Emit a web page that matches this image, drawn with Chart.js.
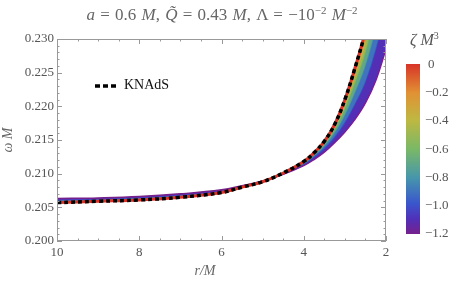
<!DOCTYPE html>
<html>
<head>
<meta charset="utf-8">
<script src="https://cdn.jsdelivr.net/npm/chart.js@4"></script>
<style>
  body { margin: 0; background: #fff; }
  #wrap { position: relative; width: 458px; height: 285px; font-family: "Liberation Serif", "Times New Roman", serif; }
  #title { position: absolute; left: 0; width: 444px; top: 5px; text-align: center; font-size: 17px; word-spacing: 1px; color: #666; white-space: nowrap; }
  #title sup { font-size: 11px; vertical-align: 6px; line-height: 0; }
  #legend { position: absolute; left: 95px; top: 77px; font-size: 14px; color: #111; white-space: nowrap; }
  #legend svg { vertical-align: middle; margin-right: 8px; }
  #xtitle { position: absolute; left: 185px; width: 40px; top: 263px; text-align: center; font-size: 14px; color: #666; font-style: italic; }
  #cbar { position: absolute; left: 406px; top: 64px; width: 14px; height: 170px; }
  .cl { position: absolute; left: 428px; font-size: 13px; color: #555; line-height: 14px; }
  #ctitle { position: absolute; left: 410px; top: 31px; font-size: 16px; color: #555; font-style: italic; }
  #ctitle sup { font-size: 10px; vertical-align: 6px; line-height: 0; font-style: normal; }
</style>
</head>
<body>
<div id="wrap">
  <canvas id="c" width="458" height="285"></canvas>
  <div id="title"><i>a</i> = 0.6 <i>M</i>, <i>Q&#771;</i> = 0.43 <i>M</i>, Λ = −10<sup>−2</sup> <i>M</i><sup>−2</sup></div>
  <div id="legend"><svg width="21" height="4"><line x1="0" y1="2" x2="21" y2="2" stroke="#000" stroke-width="3.5" stroke-dasharray="5,3"/></svg>KNAdS</div>
  <div id="xtitle">r/M</div>
  <div id="ctitle">ζ M<sup>3</sup></div>
  <div id="cbar"></div>
</div>
<script>
// radius grid r/M
const rValues = [10, 9, 8, 7, 6, 5.5, 5, 4.5, 4, 3.75, 3.5, 3.25, 3, 2.75, 2.5, 2.25, 2];

// omega*M for each zeta*M^3
const zetaLevels = [0, -0.2, -0.4, -0.6, -0.8, -1.0, -1.2];
const omegaZeta0   = [0.2057, 0.2059, 0.2061, 0.2065, 0.2072, 0.2080, 0.2088, 0.2101, 0.2118, 0.2131, 0.2148, 0.2173, 0.2210, 0.2258, 0.2312, 0.2385, 0.2472];
const omegaZeta02  = [0.20574, 0.20593, 0.20613, 0.20653, 0.20722, 0.20801, 0.20881, 0.21009, 0.21176, 0.21304, 0.21470, 0.21713, 0.22070, 0.22533, 0.23054, 0.23762, 0.24609];
const omegaZeta04  = [0.20580, 0.20599, 0.20619, 0.20659, 0.20727, 0.20803, 0.20882, 0.21007, 0.21168, 0.21293, 0.21453, 0.21682, 0.22015, 0.22446, 0.22933, 0.23600, 0.24406];
const omegaZeta06  = [0.20588, 0.20605, 0.20625, 0.20665, 0.20732, 0.20806, 0.20883, 0.21004, 0.21159, 0.21280, 0.21432, 0.21646, 0.21950, 0.22343, 0.22790, 0.23409, 0.24165];
const omegaZeta08  = [0.20599, 0.20614, 0.20634, 0.20674, 0.20739, 0.20810, 0.20885, 0.21000, 0.21146, 0.21262, 0.21403, 0.21596, 0.21860, 0.22201, 0.22592, 0.23144, 0.23832];
const omegaZeta10  = [0.20612, 0.20625, 0.20645, 0.20685, 0.20748, 0.20814, 0.20887, 0.20996, 0.21131, 0.21240, 0.21368, 0.21534, 0.21750, 0.22027, 0.22350, 0.22821, 0.23425];
const omegaZeta12  = [0.2063, 0.2064, 0.2066, 0.2070, 0.2076, 0.2082, 0.2089, 0.2099, 0.2112, 0.2121, 0.2132, 0.2146, 0.2162, 0.2181, 0.2205, 0.2238, 0.2285];
const omegaKNAdS   = omegaZeta0;

const xTicks = [10, 8, 6, 4, 2];
const yTicks = [0.200, 0.205, 0.210, 0.215, 0.220, 0.225, 0.230];
const cbarLabels = ['0', '−0.2', '−0.4', '−0.6', '−0.8', '−1.0', '−1.2'];

// rainbow colormap, t=0 purple -> t=1 red
const cmap = [
  [0.00, [118, 32, 140]],
  [0.09, [80, 48, 185]],
  [0.18, [58, 86, 205]],
  [0.33, [70, 150, 172]],
  [0.50, [122, 184, 102]],
  [0.67, [190, 184, 66]],
  [0.83, [225, 145, 52]],
  [1.00, [216, 52, 40]]
];
function colorAt(t) {
  for (let i = 1; i < cmap.length; i++) {
    if (t <= cmap[i][0]) {
      const [t0, c0] = cmap[i - 1], [t1, c1] = cmap[i];
      const k = (t - t0) / (t1 - t0);
      const c = c0.map((v, j) => Math.round(v + (c1[j] - v) * k));
      return `rgb(${c[0]},${c[1]},${c[2]})`;
    }
  }
  return 'rgb(216,52,40)';
}
const zt = z => 1 + z / 1.2;

document.getElementById('cbar').style.background =
  'linear-gradient(to top,' + cmap.map(s => `${colorAt(s[0])} ${s[0] * 100}%`).join(',') + ')';
cbarLabels.forEach((lab, i) => {
  const d = document.createElement('div');
  d.className = 'cl';
  d.textContent = lab;
  d.style.left = (lab === '0' ? 428 : 425) + 'px';
  d.style.top = (64 + i * 28.2 - 7) + 'px';
  document.getElementById('wrap').appendChild(d);
});

const series = [omegaZeta0, omegaZeta02, omegaZeta04, omegaZeta06, omegaZeta08, omegaZeta10, omegaZeta12];
const pts = arr => rValues.map((r, i) => ({ x: r, y: arr[i] }));

const datasets = series.map((arr, i) => ({
  data: pts(arr),
  borderColor: colorAt(zt(zetaLevels[i])),
  borderWidth: i === 0 ? 3 : 1.5,
  backgroundColor: i === 0 ? 'transparent' : colorAt(zt((zetaLevels[i] + zetaLevels[i - 1]) / 2)),
  fill: i === 0 ? false : '-1',
  pointRadius: 0,
  tension: 0.4,
  order: i === 0 ? 1 : 10 - i
}));
datasets.push({
  label: 'KNAdS',
  data: pts(omegaKNAdS),
  borderColor: '#000',
  borderWidth: 3.5,
  borderDash: [4, 3],
  fill: false,
  pointRadius: 0,
  tension: 0.4,
  order: 0
});

const frameTicks = {
  id: 'frameTicks',
  afterDraw(chart) {
    const { ctx, chartArea: { left, right, top, bottom }, scales: { x, y } } = chart;
    ctx.save();
    ctx.strokeStyle = '#999';
    ctx.lineWidth = 1;
    ctx.strokeRect(left + 0.5, top + 0.5, right - left - 1, bottom - top - 1);
    ctx.beginPath();
    for (let k = 0; k <= 16; k++) {
      const v = 2 + k * 0.5;
      const px = Math.round(x.getPixelForValue(v)) + 0.5;
      const len = k % 4 === 0 ? 5 : 2.5;
      ctx.moveTo(px, bottom); ctx.lineTo(px, bottom - len);
      ctx.moveTo(px, top); ctx.lineTo(px, top + len);
    }
    for (let k = 0; k <= 30; k++) {
      const v = 0.2 + k * 0.001;
      const py = Math.round(y.getPixelForValue(v)) + 0.5;
      const len = k % 5 === 0 ? 5 : 2.5;
      ctx.moveTo(left, py); ctx.lineTo(left + len, py);
      ctx.moveTo(right, py); ctx.lineTo(right - len, py);
    }
    ctx.stroke();
    ctx.restore();
  }
};

const fam = '"Liberation Serif", "Times New Roman", serif';
const font = { family: fam, size: 13 };
new Chart(document.getElementById('c'), {
  type: 'line',
  data: { datasets },
  options: {
    responsive: false,
    animation: false,
    layout: { padding: { left: 0, top: 39, right: 72, bottom: 0 } },
    plugins: { legend: { display: false }, tooltip: { enabled: false } },
    scales: {
      x: {
        type: 'linear', reverse: true, min: 2, max: 10,
        afterBuildTicks: s => { s.ticks = xTicks.map(v => ({ value: v })); },
        afterFit: s => { s.height = 44; },
        grid: { display: false, drawTicks: false }, border: { display: false },
        ticks: { font, color: '#555', padding: 4, maxRotation: 0, callback: v => String(v) }
      },
      y: {
        type: 'linear', min: 0.2, max: 0.23,
        afterBuildTicks: s => { s.ticks = yTicks.map(v => ({ value: v })); },
        afterFit: s => { s.width = 57; },
        grid: { display: false, drawTicks: false }, border: { display: false },
        ticks: { font, color: '#555', padding: 3, callback: v => v.toFixed(3) },
        title: { display: true, text: 'ω M', font: { family: fam, size: 14, style: 'italic' }, color: '#666', padding: { top: 0, bottom: 0 } }
      }
    }
  },
  plugins: [frameTicks]
});
</script>
</body>
</html>
